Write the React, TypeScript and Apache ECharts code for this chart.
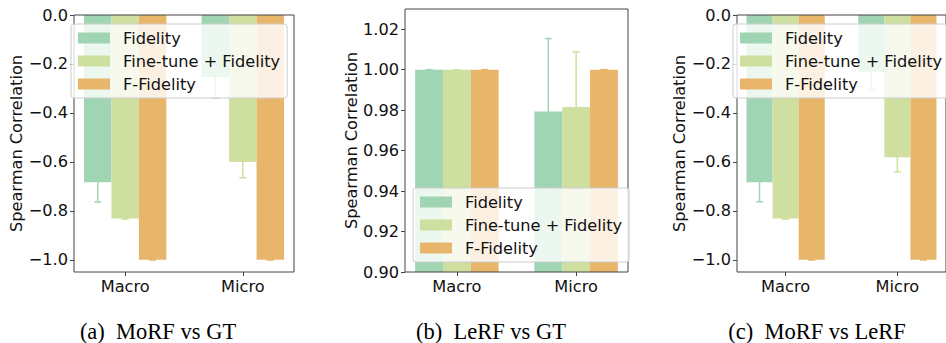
import React, { useEffect, useRef } from "react";
import * as echarts from "echarts";

// Categories on the x axis of each panel
const categories = ["Macro", "Micro"];
const methods = ["Fidelity", "Fine-tune + Fidelity", "F-Fidelity"];
const methodColors = ["#9fd5b3", "#cfdf9f", "#e8b66a"];

// (a) MoRF vs GT
const morfGtMean = [
  [-0.683, -0.253],
  [-0.831, -0.601],
  [-1.0, -1.0],
];
const morfGtErr = [
  [0.081, 0.086],
  [0.003, 0.064],
  [0.0, 0.0],
];

// (b) LeRF vs GT
const lerfGtMean = [
  [1.0, 0.9793],
  [1.0, 0.9816],
  [1.0, 1.0],
];
const lerfGtErr = [
  [0.0, 0.0361],
  [0.0, 0.0271],
  [0.0, 0.0],
];

// (c) MoRF vs LeRF
const morfLerfMean = [
  [-0.683, -0.232],
  [-0.831, -0.581],
  [-1.0, -1.0],
];
const morfLerfErr = [
  [0.08, 0.073],
  [0.003, 0.06],
  [0.0, 0.0],
];

// Tick labels
const negTicks = [0, -0.2, -0.4, -0.6, -0.8, -1.0];
const posTicks = [0.9, 0.92, 0.94, 0.96, 0.98, 1.0, 1.02];

const captions = ["(a)\u2002MoRF vs GT", "(b)\u2002LeRF vs GT", "(c)\u2002MoRF vs LeRF"];

const BAR_FRAC = 0.7 / 3;
const FONT = "DejaVu Sans";
const FS = 16.2;

type Panel = {
  mean: number[][];
  err: number[][];
  grid: { left: number; top: number; width: number; height: number };
  yMin: number;
  yMax: number;
  ticks: number[];
  digits: number;
  nameGap: number;
  legend: { left: number; top: number };
  captionX: number;
};

const panels: Panel[] = [
  {
    mean: morfGtMean,
    err: morfGtErr,
    grid: { left: 74, top: 15, width: 220, height: 257 },
    yMin: -1.05,
    yMax: 0,
    ticks: negTicks,
    digits: 1,
    nameGap: 48,
    legend: { left: 71, top: 24 },
    captionX: 158,
  },
  {
    mean: lerfGtMean,
    err: lerfGtErr,
    grid: { left: 405, top: 9, width: 223, height: 263 },
    yMin: 0.9,
    yMax: 1.03,
    ticks: posTicks,
    digits: 2,
    nameGap: 45,
    legend: { left: 413, top: 188 },
    captionX: 491,
  },
  {
    mean: morfLerfMean,
    err: morfLerfErr,
    grid: { left: 737, top: 15, width: 220, height: 257 },
    yMin: -1.05,
    yMax: 0,
    ticks: negTicks,
    digits: 1,
    nameGap: 49,
    legend: { left: 733, top: 24 },
    captionX: 817,
  },
];

const fmt = (v: number, digits: number) => {
  const s = Math.abs(v).toFixed(digits);
  return v < -1e-9 ? "\u2212" + s : s;
};

function buildOption() {
  const grids: any[] = [];
  const xAxes: any[] = [];
  const yAxes: any[] = [];
  const legends: any[] = [];
  const series: any[] = [];
  const graphics: any[] = [];

  panels.forEach((p, pi) => {
    grids.push({
      ...p.grid,
      show: true,
      z: 3,
      backgroundColor: "transparent",
      borderColor: "#444",
      borderWidth: 1,
    });
    xAxes.push({
      type: "value",
      gridIndex: pi,
      position: "bottom",
      min: -0.435,
      max: 1.435,
      axisLine: { show: false, onZero: false },
      splitLine: { show: false },
      axisTick: {
        show: true,
        length: 4,
        customValues: categories.map((_, i) => i),
        lineStyle: { color: "#444" },
      },
      axisLabel: {
        customValues: categories.map((_, i) => i),
        formatter: (v: number) => categories[Math.round(v)] ?? "",
        fontFamily: FONT,
        fontSize: FS,
        color: "#111",
        margin: 6,
      },
    });
    yAxes.push({
      type: "value",
      gridIndex: pi,
      position: "left",
      min: p.yMin,
      max: p.yMax,
      name: "Spearman Correlation",
      nameLocation: "middle",
      nameGap: p.nameGap,
      nameTextStyle: { fontFamily: FONT, fontSize: FS, color: "#111" },
      axisLine: { show: false, onZero: false },
      splitLine: { show: false },
      axisTick: {
        show: true,
        length: 4,
        customValues: p.ticks,
        lineStyle: { color: "#444" },
      },
      axisLabel: {
        customValues: p.ticks,
        formatter: (v: number) => fmt(v, p.digits),
        fontFamily: FONT,
        fontSize: FS,
        color: "#111",
        margin: 6,
      },
    });
    legends.push({
      data: methods,
      orient: "vertical",
      left: p.legend.left,
      top: p.legend.top,
      itemWidth: 32,
      itemHeight: 11,
      itemGap: 7,
      padding: [6, 7, 6, 7],
      backgroundColor: "rgba(255,255,255,0.8)",
      borderColor: "#cccccc",
      borderWidth: 1,
      borderRadius: 3,
      selectedMode: false,
      icon: "rect",
      textStyle: {
        fontFamily: FONT,
        fontSize: FS,
        color: "#111",
        padding: [0, 0, 0, 8],
      },
    });

    methods.forEach((m, k) => {
      series.push({
        type: "bar",
        name: m,
        xAxisIndex: pi,
        yAxisIndex: pi,
        barWidth: (BAR_FRAC * 100).toFixed(2) + "%",
        barGap: "0%",
        itemStyle: { color: methodColors[k] },
        data: categories.map((_, ci) => [ci, p.mean[k][ci]]),
      });
    });

    methods.forEach((m, k) => {
      series.push({
        type: "custom",
        name: m + " error",
        xAxisIndex: pi,
        yAxisIndex: pi,
        clip: true,
        z: 2.5,
        data: categories.map((_, ci) => [ci, p.mean[k][ci], p.err[k][ci]]),
        renderItem: (params: any, api: any) => {
          const xv = api.value(0);
          const yv = api.value(1);
          const e = api.value(2);
          const w = api.size([BAR_FRAC, 0])[0];
          const cx = api.coord([xv, yv])[0] + (k - 1) * w;
          const yTop = api.coord([xv, yv + e])[1];
          const yBot = api.coord([xv, yv - e])[1];
          const cap = 3.5;
          const style = { stroke: methodColors[k], lineWidth: 1.5 };
          return {
            type: "group",
            children: [
              { type: "line", shape: { x1: cx, y1: yTop, x2: cx, y2: yBot }, style },
              { type: "line", shape: { x1: cx - cap, y1: yTop, x2: cx + cap, y2: yTop }, style },
              { type: "line", shape: { x1: cx - cap, y1: yBot, x2: cx + cap, y2: yBot }, style },
            ],
          };
        },
      });
    });

    graphics.push({
      type: "text",
      x: p.captionX,
      y: 331,
      style: {
        text: captions[pi],
        font: "22.5px 'Liberation Serif', 'Times New Roman', serif",
        fill: "#000",
        textAlign: "center",
        textVerticalAlign: "middle",
      },
    });
  });

  return {
    animation: false,
    backgroundColor: "#ffffff",
    grid: grids,
    xAxis: xAxes,
    yAxis: yAxes,
    legend: legends,
    series,
    graphic: graphics,
  };
}

export default function App() {
  const ref = useRef<HTMLDivElement>(null);

  useEffect(() => {
    document.body.style.margin = "0";
    if (!ref.current) return;
    const chart = echarts.init(ref.current, null, { renderer: "svg" });
    chart.setOption(buildOption());
    return () => chart.dispose();
  }, []);

  return <div ref={ref} style={{ width: 946, height: 343, overflow: "hidden" }} />;
}
